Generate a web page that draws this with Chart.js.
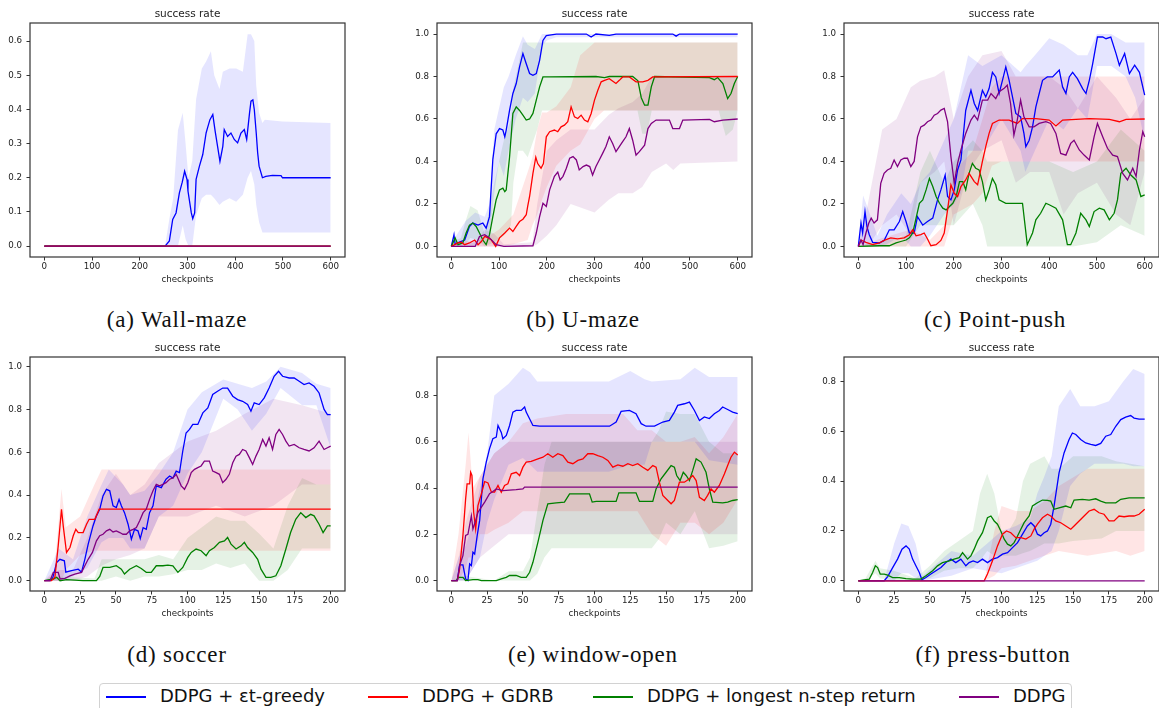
<!DOCTYPE html>
<html>
<head>
<meta charset="utf-8">
<script src="https://cdn.jsdelivr.net/npm/chart.js@4.4.1/dist/chart.umd.min.js"></script>
<style>
  html, body { margin: 0; padding: 0; background: #fff; width: 1159px; height: 708px; overflow: hidden; }
  canvas { position: absolute; }
  .cap { position: absolute; font-family: "Liberation Serif", serif; font-size: 23px; color: #111;
         letter-spacing: 0.8px; transform: translate(-50%, -50%); white-space: nowrap; }
  #legend { position: absolute; left: 99px; top: 683px; width: 973px; height: 32px;
            border: 1px solid #d2d2d2; border-radius: 4px; box-sizing: border-box; }
  .lg-line { position: absolute; height: 2px; width: 40px; top: 12px; }
  .lg-text { position: absolute; top: 1px; font-family: "DejaVu Sans", sans-serif; font-size: 18px;
             color: #111; white-space: nowrap; }
</style>
</head>
<body>
<canvas id="pa" width="350" height="300" style="left:0px;top:0px"></canvas>
<canvas id="pb" width="350" height="300" style="left:407px;top:0px"></canvas>
<canvas id="pc" width="350" height="300" style="left:814px;top:0px"></canvas>
<canvas id="pd" width="350" height="300" style="left:0px;top:334px"></canvas>
<canvas id="pe" width="350" height="300" style="left:407px;top:334px"></canvas>
<canvas id="pf" width="350" height="300" style="left:814px;top:334px"></canvas>

<div class="cap" style="left:177px;top:320px">(a) Wall-maze</div>
<div class="cap" style="left:583px;top:320px">(b) U-maze</div>
<div class="cap" style="left:995px;top:320px">(c) Point-push</div>
<div class="cap" style="left:177px;top:655px">(d) soccer</div>
<div class="cap" style="left:593px;top:655px">(e) window-open</div>
<div class="cap" style="left:993px;top:655px">(f) press-button</div>

<div id="legend"></div>

<script>
// textos
var tituloPainel = 'success rate';
var tituloEixoX = 'checkpoints';
var nomesSeries = ['DDPG + εt-greedy', 'DDPG + GDRB', 'DDPG + longest n-step return', 'DDPG'];
var coresSeries = ['#0000ff', '#ff0000', '#008000', '#800080'];
var coresFaixa = ['rgba(0,0,255,0.1)', 'rgba(255,0,0,0.1)', 'rgba(0,128,0,0.1)', 'rgba(128,0,128,0.1)'];

// ---------- (a) Wall-maze ----------
var aBlue = [[0,0],[253,0],[262,.015],[269,.078],[276,.097],[283,.156],[289,.187],[294,.219],[299,.195],[301,.161],[308,.097],[311,.08],[315,.097],[318,.195],[325,.234],[332,.268],[339,.331],[342,.346],[347,.37],[353,.385],[358,.336],[363,.292],[368,.248],[374,.292],[377,.341],[384,.321],[391,.331],[398,.312],[405,.302],[412,.331],[419,.341],[424,.312],[430,.39],[433,.424],[437,.428],[440,.399],[444,.331],[447,.273],[450,.234],[457,.2],[464,.204],[478,.207],[496,.206],[499,.2],[600,.2]];
var aBlueBand = [[0,0,0],[253,0,0],[262,0,.08],[270,0,.14],[280,0,.34],[290,.06,.39],[296,.02,.3],[302,0,.2],[310,0,.25],[318,.09,.43],[330,.14,.52],[339,.15,.54],[349,.15,.57],[356,.14,.5],[367,.12,.46],[374,.13,.51],[388,.14,.52],[402,.13,.52],[416,.15,.51],[426,.2,.62],[433,.22,.62],[440,.18,.6],[444,.12,.47],[450,.07,.39],[457,.04,.36],[462,.04,.37],[499,.04,.365],[600,.04,.36]];
var aRed = [[0,0],[600,0]];
var aGreen = [[0,0],[600,0]];
var aPurple = [[0,0],[600,0]];

// ---------- (b) U-maze ----------
var bBlue = [[0,0],[5.6,.055],[8,.01],[17,.02],[28,.03],[38,.094],[45,.11],[56,.10],[66,.11],[73,.086],[80,.14],[87,.41],[94,.53],[101,.555],[108,.548],[112,.516],[115,.548],[122,.64],[129,.72],[136,.767],[143,.845],[150,.908],[157,.86],[164,.814],[171,.806],[178,.814],[185,.876],[192,.97],[199,.993],[220,1],[283,1],[293,.986],[303,1],[331,.994],[345,1],[464,1],[471,.99],[478,1],[600,1]];
var bBlueBand = [[0,0,0],[10,0,.05],[30,0,.12],[50,0,.16],[70,.04,.14],[80,.05,.2],[90,.25,.55],[100,.4,.65],[110,.33,.75],[120,.45,.8],[135,.6,.9],[150,.7,.99],[160,.68,.95],[175,.72,.93],[190,.94,1],[200,.97,1],[220,.985,1],[600,.985,1]];
var bRed = [[0,0],[7,.008],[14,.016],[21,.02],[28,.008],[38,.016],[49,.03],[56,.008],[63,.023],[70,.047],[77,.04],[84,.03],[93,0],[101,.04],[112,.063],[122,.086],[129,.07],[136,.094],[143,.117],[150,.128],[157,.149],[160,.188],[164,.235],[171,.344],[177,.42],[181,.39],[188,.368],[193,.39],[199,.516],[206,.54],[216,.548],[223,.54],[230,.563],[237,.571],[244,.587],[251,.657],[258,.61],[265,.602],[272,.618],[279,.595],[286,.587],[293,.626],[300,.689],[307,.735],[314,.775],[321,.782],[331,.79],[345,.767],[352,.782],[359,.798],[373,.798],[387,.775],[401,.775],[412,.782],[422,.798],[600,.8]];
var bRedBand = [[0,0,.02],[60,0,.03],[80,0,.05],[100,0,.08],[130,.01,.15],[160,.03,.35],[170,.1,.42],[180,.15,.55],[190,.22,.63],[200,.28,.63],[220,.38,.66],[250,.45,.75],[270,.48,.9],[300,.6,.96],[320,.64,.96],[600,.64,.96]];
var bGreen = [[0,0],[8,.04],[14,.008],[24,.016],[31,.063],[38,.10],[45,.11],[52,.094],[59,.063],[66,.03],[73,.008],[80,.055],[87,.14],[94,.22],[101,.266],[108,.274],[112,.258],[115,.266],[122,.42],[129,.626],[136,.657],[143,.64],[150,.618],[157,.595],[164,.60],[171,.626],[178,.689],[185,.751],[192,.798],[206,.798],[303,.80],[321,.795],[331,.8],[380,.8],[391,.78],[398,.70],[405,.665],[412,.665],[419,.751],[426,.8],[541,.795],[551,.785],[558,.795],[569,.767],[579,.696],[586,.72],[593,.767],[600,.8]];
var bGreenBand = [[0,0,.02],[20,0,.04],[30,.01,.12],[40,.04,.19],[55,.03,.17],[70,0,.06],[90,.02,.3],[110,.05,.5],[125,.1,.6],[130,.3,.75],[140,.45,.85],[150,.45,.96],[160,.42,.96],[180,.55,.96],[190,.64,.96],[390,.64,.96],[400,.53,.96],[410,.53,.96],[420,.64,.96],[560,.64,.96],[575,.52,.96],[590,.55,.96],[600,.64,.96]];
var bPurple = [[0,0],[50,0],[59,.047],[70,.055],[80,.04],[94,.008],[110,0],[171,.003],[178,.063],[185,.14],[192,.203],[199,.188],[206,.266],[216,.33],[223,.35],[228,.313],[234,.33],[241,.368],[248,.415],[255,.423],[262,.407],[268,.36],[276,.376],[283,.383],[290,.376],[296,.336],[303,.376],[310,.407],[317,.438],[324,.47],[331,.516],[338,.485],[345,.446],[352,.47],[359,.493],[366,.516],[373,.555],[380,.5],[387,.43],[394,.446],[405,.477],[412,.555],[419,.579],[429,.595],[457,.595],[464,.555],[478,.555],[485,.595],[541,.598],[551,.587],[569,.595],[600,.6]];
var bPurpleBand = [[0,0,0],[50,0,.02],[70,0,.08],[90,0,.06],[110,0,.01],[170,0,.02],[180,.01,.2],[200,.05,.45],[220,.1,.5],[250,.2,.55],[300,.16,.55],[330,.22,.62],[350,.25,.65],[380,.25,.68],[400,.28,.72],[420,.35,.8],[450,.39,.8],[465,.36,.8],[480,.39,.8],[600,.4,.8]];

// ---------- (c) Point-push ----------
var cBlue = [[0,0],[5.6,.11],[9,.063],[14,.164],[18,.094],[23,.055],[30,.019],[44,.016],[54,.028],[65,.078],[75,.078],[86,.117],[93,.164],[100,.117],[107,.063],[117,.063],[124,.14],[135,.10],[145,.117],[156,.133],[166,.219],[173,.266],[182,.336],[187,.235],[194,.219],[201,.266],[208,.36],[215,.407],[225,.64],[236,.735],[243,.673],[250,.64],[260,.735],[267,.704],[274,.743],[281,.82],[288,.798],[295,.72],[302,.782],[309,.845],[316,.782],[323,.704],[330,.626],[340,.61],[347,.532],[351,.47],[358,.5],[365,.563],[372,.657],[379,.72],[386,.782],[396,.798],[407,.798],[421,.83],[428,.751],[435,.72],[442,.798],[449,.82],[459,.79],[470,.743],[477,.72],[484,.782],[491,.86],[501,.986],[512,.986],[519,.978],[529,.986],[540,.908],[547,.853],[558,.908],[568,.814],[579,.853],[589,.82],[600,.712]];
var cBlueBand = [[0,0,0],[10,.01,.24],[20,0,.18],[40,0,.05],[60,.01,.15],[90,.05,.25],[110,0,.2],[130,0,.3],[150,.05,.35],[180,.15,.5],[200,.2,.6],[215,.25,.75],[230,.45,.9],[260,.45,.85],[300,.6,.9],[340,.45,.82],[350,.35,.85],[370,.45,.9],[400,.6,.98],[430,.55,.95],[460,.65,.9],[480,.6,.9],[500,.85,1],[530,.85,1],[560,.8,.96],[580,.7,.96],[600,.5,.96]];
var cRed = [[0,0],[5.6,.03],[16,.019],[30,.008],[44,.016],[54,.028],[68,.04],[82,.035],[96,.04],[107,.055],[114,.078],[121,.05],[131,.055],[138,.063],[145,.035],[152,.003],[163,.008],[173,.028],[180,.063],[187,.172],[194,.29],[201,.25],[208,.235],[215,.282],[225,.313],[232,.344],[243,.305],[250,.29],[260,.40],[267,.47],[274,.532],[281,.579],[295,.595],[316,.595],[333,.579],[344,.602],[372,.602],[400,.595],[414,.567],[428,.595],[484,.602],[526,.598],[547,.587],[561,.598],[600,.6]];
var cRedBand = [[0,0,0],[50,0,.04],[110,0,.08],[150,0,.03],[180,0,.1],[200,.15,.35],[240,.2,.45],[260,.25,.6],[280,.38,.75],[300,.4,.8],[600,.4,.8]];
var cGreen = [[0,0],[44,.003],[65,.003],[79,.016],[89,.023],[100,.03],[107,.04],[114,.063],[121,.133],[128,.203],[135,.219],[142,.266],[149,.32],[156,.282],[163,.235],[170,.203],[177,.18],[184,.172],[191,.188],[198,.203],[205,.235],[212,.305],[219,.305],[225,.266],[232,.344],[239,.391],[246,.368],[253,.36],[260,.305],[267,.219],[274,.266],[281,.32],[288,.29],[295,.219],[309,.203],[344,.203],[354,.008],[365,.063],[372,.125],[382,.156],[393,.203],[400,.196],[414,.18],[428,.125],[438,.008],[445,.008],[456,.063],[466,.156],[477,.125],[484,.094],[494,.164],[505,.18],[515,.172],[526,.125],[536,.156],[543,.219],[550,.344],[561,.368],[571,.336],[582,.313],[592,.235],[600,.243]];
var cGreenBand = [[0,0,0],[100,0,.05],[130,.1,.35],[150,.1,.45],[180,.1,.3],[200,.1,.4],[240,.2,.5],[260,.1,.45],[270,0,.4],[300,0,.4],[400,0,.4],[450,0,.35],[500,.02,.4],[550,.1,.55],[600,.05,.45]];
var cPurple = [[0,0],[5.6,.03],[10,.008],[16,.063],[22,.11],[27,.133],[33,.11],[40,.125],[47,.297],[54,.344],[61,.36],[68,.368],[75,.407],[82,.376],[89,.407],[96,.415],[103,.415],[110,.376],[117,.40],[124,.516],[131,.563],[138,.571],[145,.587],[152,.595],[159,.618],[166,.626],[173,.642],[180,.65],[187,.587],[194,.423],[201,.297],[208,.391],[215,.454],[225,.532],[236,.595],[243,.618],[250,.595],[260,.689],[271,.689],[278,.72],[288,.696],[295,.728],[305,.743],[312,.759],[319,.673],[326,.524],[333,.595],[340,.689],[347,.61],[358,.563],[368,.563],[379,.579],[393,.587],[403,.579],[414,.532],[424,.438],[435,.43],[445,.485],[452,.5],[463,.454],[473,.43],[484,.407],[494,.516],[501,.579],[512,.516],[522,.462],[533,.43],[543,.423],[554,.344],[564,.313],[575,.368],[582,.329],[589,.454],[596,.54],[600,.516]];
var cPurpleBand = [[0,0,0],[20,0,.2],[50,.1,.55],[80,.15,.6],[110,.05,.75],[130,.3,.78],[160,.35,.8],[180,.4,.83],[200,.1,.6],[230,.35,.8],[260,.45,.9],[300,.5,.92],[330,.3,.8],[360,.35,.8],[400,.35,.8],[430,.15,.75],[460,.25,.65],[500,.3,.8],[540,.15,.7],[570,.1,.6],[600,.35,.7]];

// ---------- (d) soccer ----------
var dBlue = [[0,0],[4,0],[6,.016],[8.6,.085],[10.9,.1],[14,.093],[15,.04],[19,.047],[23.7,.054],[26,.04],[28.3,.1],[30.6,.17],[34,.256],[36.4,.303],[38.7,.334],[41,.396],[43.4,.427],[45.7,.42],[48,.35],[50.3,.342],[52.2,.38],[53.8,.35],[56,.318],[58.5,.264],[60.8,.194],[63,.24],[65.4,.233],[67,.197],[69,.248],[71.2,.24],[73.5,.318],[75.9,.35],[78.2,.443],[81.7,.435],[85,.474],[87.5,.489],[89.8,.48],[92.1,.512],[94.4,.505],[96.7,.606],[99,.69],[101.4,.707],[103.7,.73],[107.2,.73],[110.7,.784],[114.2,.807],[117.6,.87],[121,.885],[124.6,.9],[128,.9],[131.6,.862],[135,.846],[138.5,.838],[142,.823],[144.3,.792],[146.6,.831],[150,.823],[153.6,.854],[157,.9],[160.5,.955],[163.6,.978],[166.4,.955],[171,.947],[174.5,.947],[178,.932],[181.4,.916],[184.9,.924],[188.4,.908],[191.9,.877],[195.4,.8],[197.7,.776],[200,.776]];
var dBlueBand = [[0,0,0],[10,0,.15],[20,.02,.1],[30,.06,.3],[40,.18,.45],[45,.2,.52],[55,.2,.45],[60,.15,.4],[70,.15,.42],[80,.3,.5],[90,.35,.6],[100,.5,.8],[110,.6,.88],[125,.85,.94],[135,.8,.92],[145,.7,.9],[155,.78,.93],[165,.9,1],[180,.82,.97],[190,.82,.92],[200,.62,.9]];
var dRed = [[0,0],[5,0],[7.4,.016],[9.7,.163],[12,.334],[13.2,.256],[15.5,.132],[17.9,.155],[20.2,.21],[22,.24],[23.7,.225],[27.1,.225],[29.5,.264],[31.3,.287],[35.3,.287],[38.3,.334],[200,.334]];
var dRedBand = [[0,0,0],[7,0,.05],[12,0,.43],[15,.05,.25],[25,.12,.3],[35,.14,.45],[40,.14,.52],[200,.14,.52]];
var dGreen = [[0,0],[6.3,.008],[8.6,.016],[11,0],[15.5,.005],[27,0],[36.4,0],[38.7,.02],[41,.062],[45.7,.062],[50.3,.07],[53.8,.054],[56,.031],[59.6,.054],[64.3,.07],[67.7,.057],[71.2,.039],[74.7,.039],[78.2,.07],[82.8,.07],[86.3,.073],[89.8,.07],[93.3,.039],[96.7,.062],[100.2,.109],[102.6,.132],[106,.148],[109.5,.14],[113,.117],[115.3,.14],[118.8,.155],[122.3,.179],[125.8,.186],[128,.202],[130.4,.171],[133.9,.148],[137.4,.163],[139.7,.179],[142,.155],[145.5,.132],[149,.1],[151.3,.054],[154.8,.016],[158.2,.016],[161.7,.023],[165.2,.07],[168.7,.148],[172,.225],[175.6,.287],[179.1,.318],[182.6,.295],[186,.31],[188.4,.303],[191.9,.264],[194.7,.225],[197.7,.256],[200,.256]];
var dGreenBand = [[0,0,0],[10,0,.02],[35,0,.01],[40,0,.1],[50,.02,.1],[60,0,.1],[70,.02,.1],[80,.02,.12],[90,.03,.1],[100,.05,.2],[110,.05,.25],[120,.08,.3],[130,.06,.28],[140,.08,.28],[150,0,.22],[160,0,.15],[170,.05,.35],[180,.15,.48],[190,.15,.45],[200,.15,.45]];
var dPurple = [[0,0],[4,0],[6.3,.039],[9.7,.039],[11,.008],[14.4,.011],[17.9,.023],[21.3,.031],[26,.039],[28.3,.07],[30.6,.1],[33.6,.132],[36.4,.186],[38.7,.21],[41,.217],[43.4,.233],[45.7,.24],[48,.228],[50.3,.233],[52.7,.225],[54.9,.217],[57.3,.217],[59.6,.233],[62,.24],[64.3,.248],[66.6,.28],[69,.318],[71.2,.334],[73.5,.38],[75.9,.42],[78.2,.45],[80.5,.443],[82.8,.45],[85,.458],[87.5,.474],[89.8,.48],[92.1,.497],[95.6,.443],[97.9,.427],[100.2,.458],[102.6,.505],[104.9,.52],[107.2,.528],[109.5,.536],[111.8,.559],[115.3,.559],[117.6,.512],[120,.505],[122.3,.497],[124.6,.458],[126.9,.474],[129.2,.497],[131.6,.551],[133.9,.582],[136.2,.59],[138.5,.613],[140.8,.606],[143.2,.575],[145.5,.543],[147.8,.582],[150,.613],[152.5,.66],[154.8,.629],[157,.668],[159.4,.613],[161.7,.683],[164,.707],[166.4,.683],[168.7,.652],[171,.629],[174.5,.637],[178,.621],[181.4,.613],[184.9,.606],[188.4,.621],[191.9,.652],[195.4,.613],[197.7,.621],[200,.629]];
var dPurpleBand = [[0,0,0],[10,0,.05],[20,0,.05],[30,.02,.2],[40,.07,.4],[50,.1,.5],[60,.12,.4],[70,.15,.45],[80,.3,.55],[100,.3,.65],[120,.35,.7],[140,.3,.78],[160,.35,.85],[180,.45,.82],[200,.45,.78]];

// ---------- (e) window-open ----------
var eBlue = [[0,0],[4.2,0],[5.8,.068],[8.1,.068],[10,.007],[11.6,0],[12.8,.072],[14,.065],[15.1,.123],[16.3,.115],[18.1,.195],[19.8,.26],[22.1,.44],[24.4,.512],[26.7,.57],[29,.613],[31.4,.62],[32.6,.67],[34.9,.64],[36,.613],[38.4,.627],[40.7,.67],[43,.728],[45.3,.735],[48.8,.735],[51.2,.75],[52.3,.728],[57,.67],[61.6,.667],[110.5,.667],[115.1,.685],[118.6,.731],[124.4,.735],[129,.721],[132.6,.678],[136,.667],[141.9,.667],[147.7,.685],[152.3,.692],[155.8,.728],[158.1,.757],[162.8,.764],[166.3,.771],[169.8,.735],[173.3,.692],[176.7,.707],[180.2,.7],[183.7,.721],[187.2,.735],[189.5,.75],[193,.739],[196.5,.728],[200,.721]];
var eBlueBand = [[0,0,0],[5,0,.1],[10,0,.15],[15,.05,.25],[20,.1,.4],[25,.25,.55],[30,.35,.8],[40,.5,.85],[50,.53,.92],[55,.5,.9],[60,.47,.86],[110,.47,.86],[125,.5,.905],[135,.5,.87],[140,.6,.86],[160,.6,.87],[170,.6,.92],[180,.52,.88],[200,.5,.88]];
var eRed = [[0,0],[4.2,0],[5.8,.05],[8.1,.195],[10,.353],[11,.418],[12.8,.418],[13.5,.468],[14.4,.454],[15.6,.295],[17,.223],[18.6,.324],[21,.375],[23.3,.428],[25.6,.422],[28,.382],[30.2,.382],[32.6,.411],[34.9,.382],[37.2,.411],[39.5,.418],[41.9,.461],[45.3,.468],[47.7,.454],[50,.49],[52.3,.512],[55.8,.515],[60.5,.526],[64,.533],[67.4,.548],[70.9,.533],[74.4,.548],[77.9,.54],[81.4,.512],[84.9,.505],[88.4,.519],[91.9,.526],[95.3,.548],[98.8,.548],[102.3,.54],[105.8,.533],[109.3,.519],[112.8,.49],[116.3,.5],[119.8,.494],[123.3,.505],[126.7,.497],[130.2,.505],[133.7,.49],[137.2,.476],[140.7,.497],[143,.49],[145.3,.425],[147.7,.368],[151.2,.346],[153.5,.332],[155.8,.346],[159.3,.425],[162.8,.425],[166.3,.44],[168.6,.454],[171,.432],[173.3,.36],[176.7,.346],[179,.368],[181.4,.396],[183.7,.382],[187.2,.411],[190.7,.461],[193,.497],[195.3,.533],[197.7,.555],[200,.543]];
var eRedBand = [[0,0,0],[5,0,.2],[10,.05,.5],[12,.1,.64],[15,.1,.4],[20,.2,.45],[25,.2,.5],[30,.22,.55],[40,.25,.6],[50,.3,.68],[60,.3,.7],[80,.3,.72],[120,.3,.72],[130,.3,.65],[140,.2,.65],[150,.15,.6],[160,.25,.6],[170,.25,.62],[180,.2,.55],[190,.25,.62],[200,.35,.72]];
var eGreen = [[0,0],[3.5,0],[4.7,.014],[8.1,.014],[10,0],[15.1,.004],[18.6,.004],[21,0],[31.4,0],[34.9,.007],[38.4,.014],[40.7,.022],[45.3,.022],[48.8,.014],[52.3,.014],[54.7,.036],[57,.079],[60.5,.166],[64,.26],[67.4,.332],[73.3,.336],[79,.339],[82.6,.375],[96.5,.375],[98.4,.339],[101.2,.342],[115.1,.342],[117,.379],[129,.379],[131.4,.342],[140.7,.342],[143,.396],[146.5,.44],[150,.468],[153.5,.497],[155.8,.49],[157.4,.454],[159.8,.432],[162,.468],[164,.454],[166.3,.432],[168.6,.476],[171,.526],[174.4,.512],[177.9,.468],[180.2,.396],[182.6,.339],[189.5,.336],[193,.339],[196.5,.346],[200,.35]];
var eGreenBand = [[0,0,0],[10,0,.02],[30,0,0],[40,0,.04],[50,0,.04],[55,0,.1],[60,.03,.3],[65,.1,.5],[70,.14,.6],[140,.14,.6],[145,.18,.65],[150,.25,.73],[160,.2,.72],[170,.3,.72],[180,.14,.6],[190,.15,.55],[200,.17,.55]];
var ePurple = [[0,0],[4.2,0],[5.8,.065],[8.1,.108],[10,.195],[11.6,.2],[14,.28],[15.1,.223],[17,.26],[18.6,.295],[21,.317],[23.3,.339],[26.7,.375],[29,.385],[31.4,.396],[36,.389],[45.3,.393],[50,.396],[51.2,.404],[200,.404]];
var ePurpleBand = [[0,0,0],[5,0,.1],[10,0,.25],[15,.05,.35],[20,.1,.45],[30,.15,.55],[40,.2,.6],[200,.2,.6]];

// ---------- (f) press-button ----------
var fBlue = [[0,0],[18.1,0],[20.5,.017],[24,.053],[27.4,.087],[30.5,.127],[33.3,.14],[35.6,.127],[37.9,.087],[40.2,.06],[42.6,.033],[44.4,.004],[47.2,.013],[50.7,.027],[54.2,.04],[57.7,.053],[61.2,.073],[64.7,.087],[68.1,.073],[71.6,.087],[75.1,.06],[77.4,.073],[80.2,.08],[83.3,.073],[86.7,.087],[90.2,.073],[93.7,.087],[97.2,.093],[100.7,.107],[104.2,.113],[107.7,.133],[111.2,.153],[114.7,.187],[118.1,.22],[120.5,.233],[122.8,.22],[125.1,.187],[127.4,.18],[129.8,.193],[132.1,.2],[134.4,.227],[136.7,.3],[140.2,.433],[143.7,.513],[147.2,.567],[149.5,.593],[151.9,.587],[155.3,.567],[158.8,.553],[162.3,.547],[165.8,.543],[169.3,.551],[172.8,.58],[176.3,.587],[179.8,.62],[183.3,.647],[186.7,.657],[190.2,.663],[192.6,.653],[196.1,.649],[200,.649]];
var fBlueBand = [[0,0,0],[18,0,0],[25,0,.15],[30,.03,.23],[35,.03,.22],[40,.01,.15],[45,0,.02],[55,.01,.07],[65,.02,.12],[80,.05,.1],[90,.04,.15],[100,.03,.2],[110,.05,.22],[120,.07,.25],[125,.08,.35],[130,.1,.42],[135,.12,.5],[140,.2,.7],[148,.38,.77],[155,.43,.7],[165,.47,.7],[175,.47,.72],[185,.47,.8],[192,.46,.85],[200,.46,.83]];
var fRed = [[0,0],[87.9,0],[90.2,.027],[93.7,.08],[97.2,.14],[100.7,.187],[103.5,.2],[106.5,.193],[110,.173],[113.5,.173],[117,.167],[120.5,.18],[122.8,.207],[125.1,.227],[128.6,.253],[132.1,.267],[134.4,.26],[137.9,.24],[141.4,.233],[144.9,.22],[148.4,.207],[150.7,.22],[154.2,.24],[157.7,.26],[161.2,.28],[164.7,.287],[168.1,.273],[171.6,.267],[175.1,.24],[178.6,.24],[182.1,.26],[185.6,.257],[189.1,.26],[192.6,.26],[196.1,.267],[200,.287]];
var fRedBand = [[0,0,0],[88,0,0],[95,.02,.2],[100,.05,.3],[110,.06,.28],[120,.08,.28],[130,.1,.32],[140,.12,.38],[160,.1,.45],[180,.12,.45],[190,.1,.45],[200,.12,.45]];
var fGreen = [[0,0],[4.2,.004],[7.7,.007],[10,.033],[11.9,.06],[13.5,.053],[15.3,.027],[18.1,.027],[20.5,.023],[24,.013],[28.6,.013],[33.3,.009],[37.9,.007],[43.7,.007],[47.2,.02],[51.9,.04],[55.3,.06],[58.8,.073],[63.5,.08],[66.9,.087],[70.5,.093],[72.8,.113],[76.3,.087],[78.6,.1],[80.9,.127],[83.3,.16],[86.7,.193],[90.2,.253],[92.6,.26],[94.9,.24],[97.2,.227],[99.5,.2],[101.9,.167],[104.2,.147],[106.5,.14],[108.8,.153],[111.2,.18],[113.5,.207],[115.8,.233],[119.3,.26],[121.6,.3],[125.1,.313],[128.6,.324],[132.1,.323],[134.4,.32],[136.7,.287],[140.2,.293],[144.9,.3],[148.4,.293],[150.7,.324],[156.5,.327],[161.2,.324],[165.8,.329],[169.3,.32],[172.8,.313],[179.8,.313],[183.3,.327],[189.1,.333],[200,.333]];
var fGreenBand = [[0,0,0],[5,0,.01],[12,.03,.08],[15,.01,.05],[25,0,.04],[40,0,.01],[50,.01,.06],[60,.04,.12],[70,.05,.16],[80,.05,.2],[85,.08,.35],[90,.12,.43],[95,.1,.35],[100,.1,.2],[105,.1,.2],[110,.1,.25],[115,.11,.4],[120,.12,.47],[130,.15,.5],[135,.15,.45],[140,.15,.45],[150,.16,.5],[170,.17,.5],[180,.2,.48],[200,.2,.46]];
var fPurple = [[0,0],[200,0]];

// configuração de cada painel (eixos)
var paineis = [
    { id: 'pa', xMax: 600, xStep: 100, yMin: -0.032, yMax: 0.653, yTop: 0.6, yStep: 0.1,
      linhas: [aBlue, aRed, aGreen, aPurple], faixas: [aBlueBand, null, null, null] },
    { id: 'pb', xMax: 600, xStep: 100, yMin: -0.05, yMax: 1.052, yTop: 1.0, yStep: 0.2,
      linhas: [bBlue, bRed, bGreen, bPurple], faixas: [bBlueBand, bRedBand, bGreenBand, bPurpleBand] },
    { id: 'pc', xMax: 600, xStep: 100, yMin: -0.05, yMax: 1.052, yTop: 1.0, yStep: 0.2,
      linhas: [cBlue, cRed, cGreen, cPurple], faixas: [cBlueBand, cRedBand, cGreenBand, cPurpleBand] },
    { id: 'pd', xMax: 200, xStep: 25, yMin: -0.048, yMax: 1.045, yTop: 1.0, yStep: 0.2,
      linhas: [dBlue, dRed, dGreen, dPurple], faixas: [dBlueBand, dRedBand, dGreenBand, dPurpleBand] },
    { id: 'pe', xMax: 200, xStep: 25, yMin: -0.045, yMax: 0.966, yTop: 0.8, yStep: 0.2,
      linhas: [eBlue, eRed, eGreen, ePurple], faixas: [eBlueBand, eRedBand, eGreenBand, ePurpleBand] },
    { id: 'pf', xMax: 200, xStep: 25, yMin: -0.041, yMax: 0.898, yTop: 0.8, yStep: 0.2,
      linhas: [fBlue, fRed, fGreen, fPurple], faixas: [fBlueBand, fRedBand, fGreenBand, null] }
];

// moldura completa + título do painel
var molduraPlugin = {
    id: 'moldura',
    afterDraw: function (chart) {
        var ca = chart.chartArea, ctx = chart.ctx;
        ctx.save();
        ctx.strokeStyle = '#333';
        ctx.lineWidth = 1.2;
        ctx.strokeRect(ca.left, ca.top, ca.right - ca.left, ca.bottom - ca.top);
        ctx.fillStyle = '#222';
        ctx.font = '10.5px "DejaVu Sans"';
        ctx.textAlign = 'center';
        ctx.textBaseline = 'middle';
        ctx.fillText(tituloPainel, (ca.left + ca.right) / 2, ca.top - 8.7);
        ctx.restore();
    }
};

function listaTicks(max, passo) {
    var v = [];
    for (var t = 0; t <= max + 1e-9; t += passo) v.push(Math.round(t * 100) / 100);
    return v;
}

function criarPainel(p) {
    var datasets = [];
    for (var i = 0; i < 4; i++) {
        var faixa = p.faixas[i];
        if (faixa) {
            datasets.push({
                data: faixa.map(function (r) { return { x: r[0], y: r[1] }; }),
                borderWidth: 0, pointRadius: 0, fill: false, order: 20 + i
            });
            datasets.push({
                data: faixa.map(function (r) { return { x: r[0], y: r[2] }; }),
                borderWidth: 0, pointRadius: 0, fill: '-1',
                backgroundColor: coresFaixa[i], order: 20 + i
            });
        }
    }
    // linhas: roxo por cima, depois vermelho, verde, azul
    var ordem = [4, 2, 3, 1];
    for (var j = 0; j < 4; j++) {
        datasets.push({
            data: p.linhas[j].map(function (r) { return { x: r[0], y: r[1] }; }),
            borderColor: coresSeries[j], borderWidth: 1.3, pointRadius: 0,
            fill: false, tension: 0, order: ordem[j]
        });
    }
    var xTicks = listaTicks(p.xMax, p.xStep);
    var yTicks = listaTicks(p.yTop, p.yStep);
    var margem = p.xMax * 0.05;

    new Chart(document.getElementById(p.id), {
        type: 'line',
        data: { datasets: datasets },
        options: {
            responsive: false,
            animation: false,
            devicePixelRatio: 1,
            layout: { padding: { top: 23, right: 5, left: 0, bottom: 0 } },
            plugins: {
                legend: { display: false },
                tooltip: { enabled: false },
                filler: { drawTime: 'beforeDatasetsDraw' }
            },
            scales: {
                x: {
                    type: 'linear', min: -margem, max: p.xMax + margem,
                    afterBuildTicks: function (s) { s.ticks = xTicks.map(function (v) { return { value: v }; }); },
                    afterFit: function (s) { s.height = 43; },
                    grid: { drawOnChartArea: false, drawTicks: true, tickLength: 3.5, color: '#333' },
                    border: { display: false },
                    ticks: { font: { family: 'DejaVu Sans', size: 8.7 }, color: '#222', padding: 1.5,
                             maxRotation: 0, autoSkip: false,
                             callback: function (v) { return String(v); } },
                    title: { display: true, text: tituloEixoX, color: '#222',
                             font: { family: 'DejaVu Sans', size: 8.7 }, padding: { top: 0, bottom: 15.5 } }
                },
                y: {
                    type: 'linear', min: p.yMin, max: p.yMax,
                    afterBuildTicks: function (s) { s.ticks = yTicks.map(function (v) { return { value: v }; }); },
                    afterFit: function (s) { s.width = 30; },
                    grid: { drawOnChartArea: false, drawTicks: true, tickLength: 3.5, color: '#333' },
                    border: { display: false },
                    ticks: { font: { family: 'DejaVu Sans', size: 8.7 }, color: '#222', padding: 4.5,
                             autoSkip: false,
                             callback: function (v) { return v.toFixed(1); } }
                }
            }
        },
        plugins: [molduraPlugin]
    });
}

paineis.forEach(criarPainel);

// legenda comum (HTML)
var posLegenda = [[6, 60], [268, 322], [493, 547], [859, 913]];
var legenda = document.getElementById('legend');
for (var k = 0; k < 4; k++) {
    var ln = document.createElement('div');
    ln.className = 'lg-line';
    ln.style.left = posLegenda[k][0] + 'px';
    ln.style.background = coresSeries[k];
    legenda.appendChild(ln);
    var tx = document.createElement('div');
    tx.className = 'lg-text';
    tx.style.left = posLegenda[k][1] + 'px';
    tx.textContent = nomesSeries[k];
    legenda.appendChild(tx);
}
</script>
</body>
</html>
